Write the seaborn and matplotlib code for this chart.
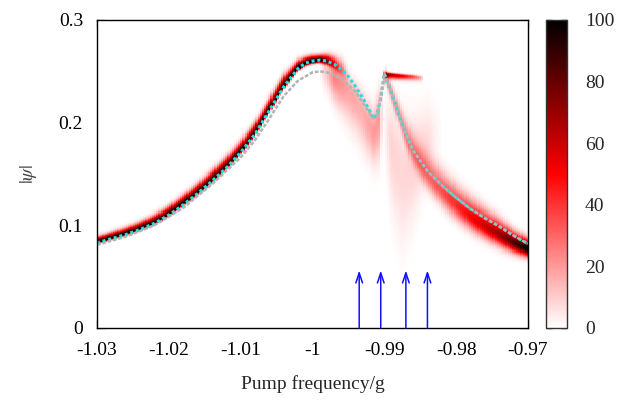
import numpy as np
import matplotlib
matplotlib.use('Agg')
import matplotlib.pyplot as plt
from matplotlib.colors import LinearSegmentedColormap
import seaborn as sns

# steady-state branches
cyan_x = [-1.030, -1.028, -1.026, -1.024, -1.022, -1.020, -1.018, -1.016, -1.014, -1.012,
          -1.010, -1.008, -1.006, -1.004, -1.002, -1.001, -1.000, -0.999, -0.998, -0.997,
          -0.996, -0.995, -0.994, -0.993, -0.992, -0.9915, -0.991, -0.9905, -0.990, -0.9895,
          -0.989, -0.988, -0.987, -0.986, -0.984, -0.982, -0.980, -0.978, -0.976, -0.974,
          -0.972, -0.970]
cyan_y = [0.083, 0.087, 0.091, 0.096, 0.102, 0.110, 0.120, 0.131, 0.143, 0.156,
          0.171, 0.189, 0.212, 0.235, 0.253, 0.258, 0.260, 0.261, 0.260, 0.257,
          0.252, 0.245, 0.235, 0.224, 0.211, 0.204, 0.208, 0.224, 0.248, 0.238,
          0.229, 0.208, 0.189, 0.173, 0.153, 0.139, 0.127, 0.116, 0.107, 0.099,
          0.090, 0.082]

gray_x = [-1.030, -1.026, -1.022, -1.018, -1.014, -1.010, -1.008, -1.006, -1.004, -1.002,
          -1.000, -0.999, -0.998, -0.996, -0.994, -0.992, -0.9915, -0.991, -0.9905, -0.990,
          -0.9895, -0.989, -0.988, -0.987, -0.986, -0.984, -0.982, -0.980, -0.978, -0.976,
          -0.974, -0.972, -0.970]
gray_y = [0.081, 0.089, 0.100, 0.117, 0.140, 0.166, 0.183, 0.204, 0.226, 0.241,
          0.249, 0.250, 0.249, 0.243, 0.230, 0.209, 0.204, 0.208, 0.224, 0.248,
          0.238, 0.229, 0.208, 0.189, 0.173, 0.153, 0.139, 0.127, 0.116, 0.107,
          0.099, 0.090, 0.082]

arrow_x = [-0.9935, -0.9905, -0.987, -0.984]
arrow_top = 0.056

# density bands: anchor freq, centre (offset), spread up/down, level
left_fx = [-1.03, -1.02, -1.012, -1.004, -1.001, -0.999, -0.997, -0.995]
left_off = [0.0005, 0.001, 0.001, 0.001, 0.0, 0.0, 0.0, 0.0]
left_sup = [0.003, 0.0045, 0.0055, 0.006, 0.0035, 0.003, 0.005, 0.008]
left_sdn = [0.0012, 0.0015, 0.0018, 0.002, 0.0015, 0.0015, 0.003, 0.005]
left_amp = [100, 95, 92, 95, 105, 100, 50, 0]

fan1_fx = [-0.999, -0.997, -0.995, -0.993, -0.9915, -0.9906, -0.9903]
fan1_c = [0.255, 0.245, 0.232, 0.212, 0.19, 0.205, 0.21]
fan1_sup = [0.006, 0.008, 0.01, 0.012, 0.015, 0.018, 0.018]
fan1_sdn = [0.01, 0.015, 0.02, 0.022, 0.02, 0.025, 0.025]
fan1_amp = [0, 25, 18, 16, 20, 20, 0]

flag_fx = [-0.9903, -0.990, -0.988, -0.986, -0.9848, -0.9845]
flag_c = [0.248, 0.2475, 0.246, 0.245, 0.244, 0.244]
flag_sup = [0.0012] * 6
flag_sdn = [0.0025] * 6
flag_amp = [0, 75, 60, 35, 15, 0]

fan2_fx = [-0.9903, -0.989, -0.9875, -0.986, -0.984, -0.982]
fan2_c = [0.21, 0.18, 0.15, 0.16, 0.18, 0.19]
fan2_sup = [0.02, 0.025, 0.035, 0.03, 0.025, 0.02]
fan2_sdn = [0.03, 0.04, 0.045, 0.035, 0.025, 0.02]
fan2_amp = [0, 9, 8, 9, 7, 0]

right_fx = [-0.9905, -0.990, -0.988, -0.986, -0.984, -0.982, -0.98, -0.977, -0.974, -0.972, -0.97]
right_off = [0, 0, 0, -0.002, -0.004, -0.006, -0.007, -0.008, -0.008, -0.007, -0.005]
right_sup = [0.004, 0.005, 0.008, 0.011, 0.013, 0.013, 0.012, 0.011, 0.009, 0.007, 0.006]
right_sdn = [0.004, 0.005, 0.006, 0.008, 0.009, 0.009, 0.009, 0.008, 0.007, 0.006, 0.005]
right_amp = [0, 20, 20, 22, 28, 35, 42, 55, 70, 85, 100]

xticks = [-1.03, -1.02, -1.01, -1.0, -0.99, -0.98, -0.97]
xtick_labels = ['-1.03', '-1.02', '-1.01', '-1', '-0.99', '-0.98', '-0.97']
yticks = [0, 0.1, 0.2, 0.3]
ytick_labels = ['0', '0.1', '0.2', '0.3']
cbar_ticks = [0, 20, 40, 60, 80, 100]

sns.set_theme(style='ticks')
plt.rcParams['font.family'] = ['Liberation Serif', 'DejaVu Serif']
plt.rcParams['mathtext.fontset'] = 'stix'
plt.rcParams['axes.unicode_minus'] = False

# grid for the density map
fx = np.linspace(-1.03, -0.97, 201)
fy = np.linspace(0.0, 0.3, 301)
Y = fy[:, None]
cy = np.interp(fx, cyan_x, cyan_y)


def band(ax_, centre, sup, sdn, amp, base=None):
    c = np.interp(fx, ax_, centre)
    if base is not None:
        c = c + base
    su = np.interp(fx, ax_, sup)
    sd = np.interp(fx, ax_, sdn)
    a = np.interp(fx, ax_, amp, left=0, right=0)
    d = Y - c[None, :]
    s = np.where(d > 0, su[None, :], sd[None, :])
    return a[None, :] * np.exp(-0.5 * (d / s) ** 2)


Z = (band(left_fx, left_off, left_sup, left_sdn, left_amp, base=cy)
     + band(fan1_fx, fan1_c, fan1_sup, fan1_sdn, fan1_amp)
     + band(flag_fx, flag_c, flag_sup, flag_sdn, flag_amp)
     + band(fan2_fx, fan2_c, fan2_sup, fan2_sdn, fan2_amp)
     + band(right_fx, right_off, right_sup, right_sdn, right_amp, base=cy))
Z = np.clip(Z, 0, 100)

cmap = LinearSegmentedColormap.from_list('wrk', ['white', 'red', 'black'])

fig = plt.figure(figsize=(6.29, 4.01), dpi=100)
ax = fig.add_axes([97 / 629, 73 / 401, 431 / 629, 308 / 401])
cax = fig.add_axes([546 / 629, 73 / 401, 21 / 629, 308 / 401])

mesh = ax.pcolormesh(fx, fy, Z, cmap=cmap, vmin=0, vmax=100, shading='nearest')

sns.lineplot(x=cyan_x, y=cyan_y, ax=ax, color='#1fe0e0', lw=2.2,
             linestyle=(0, (1, 0.9)), sort=False, estimator=None)
sns.lineplot(x=gray_x, y=gray_y, ax=ax, color='#b4b4b4', lw=1.8,
             linestyle=(0, (1.5, 0.7)), sort=False, estimator=None)

for xa in arrow_x:
    ax.annotate('', xy=(xa, arrow_top), xytext=(xa, 0.0),
                arrowprops=dict(arrowstyle='->,head_length=0.6,head_width=0.2',
                                color='#1010ff', lw=1.1, shrinkA=0, shrinkB=0))

ax.set_xlim(-1.03, -0.97)
ax.set_ylim(0, 0.3)
ax.set_xticks(xticks)
ax.set_xticklabels(xtick_labels)
ax.set_yticks(yticks)
ax.set_yticklabels(ytick_labels)
ax.tick_params(direction='in', length=5.5, width=1, color='#808080',
               top=True, right=True, labelsize=14, labelcolor='black')
ax.tick_params(axis='x', pad=10)
ax.tick_params(axis='y', pad=10)
for sp in ax.spines.values():
    sp.set_visible(True)
    sp.set_color('black')
    sp.set_linewidth(1)
ax.set_xlabel('Pump frequency/g', fontsize=14, labelpad=12)
ax.set_ylabel(r'$|\psi|$', fontsize=14, color='#444444', labelpad=14)

cb = fig.colorbar(mesh, cax=cax)
cb.set_ticks(cbar_ticks)
cb.outline.set_linewidth(1)
cb.outline.set_edgecolor('#333333')
cax.tick_params(direction='in', length=4, width=1, color='#222222',
                left=True, right=True, labelsize=14, pad=13)

fig.savefig('out.png', dpi=100)
